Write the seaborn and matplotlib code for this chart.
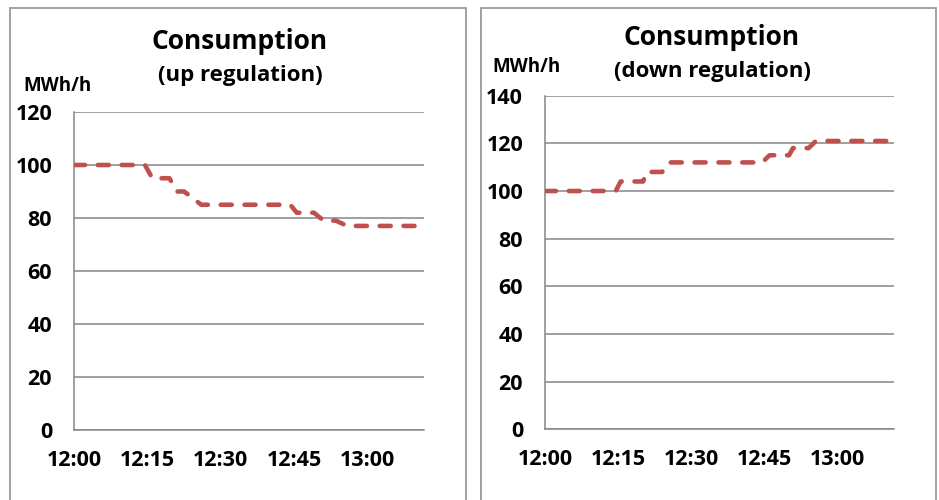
import numpy as np
import pandas as pd
import matplotlib
matplotlib.use("Agg")
import matplotlib.pyplot as plt
from matplotlib.patches import Rectangle
from matplotlib.ticker import MultipleLocator, FixedLocator
import seaborn as sns

# Minutes after 12:00 and consumption (MWh/h) at each breakpoint
up_minutes = [0, 14.5, 16, 19.5, 21, 22.5, 26, 44.2, 45.5, 49, 51, 53.5, 55.8, 70]
up_values = [100, 100, 95, 95, 90, 90, 85, 85, 82, 82, 79, 79, 77, 77]

down_minutes = [0, 14.5, 15.5, 20.1, 20.8, 24, 25.5, 44.5, 46, 50, 50.8, 54, 55.5, 70]
down_values = [100, 100, 104, 104, 108, 108, 112, 112, 115, 115, 118, 118, 121, 121]

tick_minutes = [0, 15, 30, 45, 60]
tick_labels = ["12:00", "12:15", "12:30", "12:45", "13:00"]

titles = ["Consumption", "Consumption"]
subtitles = ["(up regulation)", "(down regulation)"]
unit_label = "MWh/h"

sns.set_theme(style="white")
plt.rcParams["font.family"] = ["Open Sans", "DejaVu Sans"]
plt.rcParams["font.weight"] = "bold"

LINE = "#C0504D"
GRID = "#868686"
FRAME = "#9a9a9a"

fig = plt.figure(figsize=(9.39, 5.0), dpi=100)

# Chart-area frames
for x0, x1 in [(10, 466), (481, 936)]:
    fig.patches.append(Rectangle((x0 / 939, -0.1), (x1 - x0) / 939, 0.1 + (500 - 8) / 500,
                                 transform=fig.transFigure, fill=False,
                                 edgecolor=FRAME, linewidth=1.3, zorder=0))

ax_up = fig.add_axes([74 / 939, (500 - 430) / 500, 350 / 939, 318 / 500])
ax_down = fig.add_axes([545 / 939, (500 - 429.3) / 500, 349 / 939, 333.6 / 500])

panels = [
    (ax_up, up_minutes, up_values, 120, 240, 49, 81, 23, 91),
    (ax_down, down_minutes, down_values, 140, 712, 45, 77, 492, 72),
]

for i, (ax, mins, vals, ymax, cx, ty, sy, ux, uy) in enumerate(panels):
    df = pd.DataFrame({"minute": mins, "value": vals})
    sns.lineplot(data=df, x="minute", y="value", ax=ax, color=LINE,
                 linewidth=3.3, estimator=None, sort=False,
                 linestyle=(0, (2.4, 2.8)), dash_capstyle="round",
                 solid_capstyle="round", zorder=3)
    ax.set_xlim(0, 71.5)
    ax.set_ylim(0, ymax)
    ax.yaxis.set_major_locator(MultipleLocator(20))
    ax.xaxis.set_major_locator(FixedLocator(tick_minutes))
    ax.xaxis.set_minor_locator(MultipleLocator(5))
    ax.set_xticklabels(tick_labels)
    ax.set_xlabel("")
    ax.set_ylabel("")
    ax.grid(axis="y", color=GRID, linewidth=1.1)
    ax.grid(axis="x", visible=False)
    ax.set_axisbelow(True)
    for side in ["top", "right"]:
        ax.spines[side].set_visible(False)
    for side in ["left", "bottom"]:
        ax.spines[side].set_color(GRID)
        ax.spines[side].set_linewidth(1.1)
    ax.tick_params(axis="y", which="major", direction="out", length=5.3,
                   width=1.1, color=GRID, pad=10.5, labelsize=15.5)
    ax.tick_params(axis="x", which="major", direction="out", length=5,
                   width=1.1, color=GRID, pad=9.5, labelsize=15.5)
    ax.tick_params(axis="x", which="minor", direction="out", length=3.8,
                   width=1.1, color=GRID)
    for lab in ax.get_xticklabels() + ax.get_yticklabels():
        lab.set_fontweight("bold")
        lab.set_color("black")

    fig.text(cx / 939, (500 - ty) / 500, titles[i], ha="center", va="baseline",
             fontsize=19, fontweight="bold", color="black")
    fig.text(cx / 939, (500 - sy) / 500, subtitles[i], ha="center", va="baseline",
             fontsize=16, fontweight="bold", color="black")
    fig.text(ux / 939, (500 - uy) / 500, unit_label, ha="left", va="baseline",
             fontsize=13.5, fontweight="bold", color="black")

fig.savefig("out.png", dpi=100)
